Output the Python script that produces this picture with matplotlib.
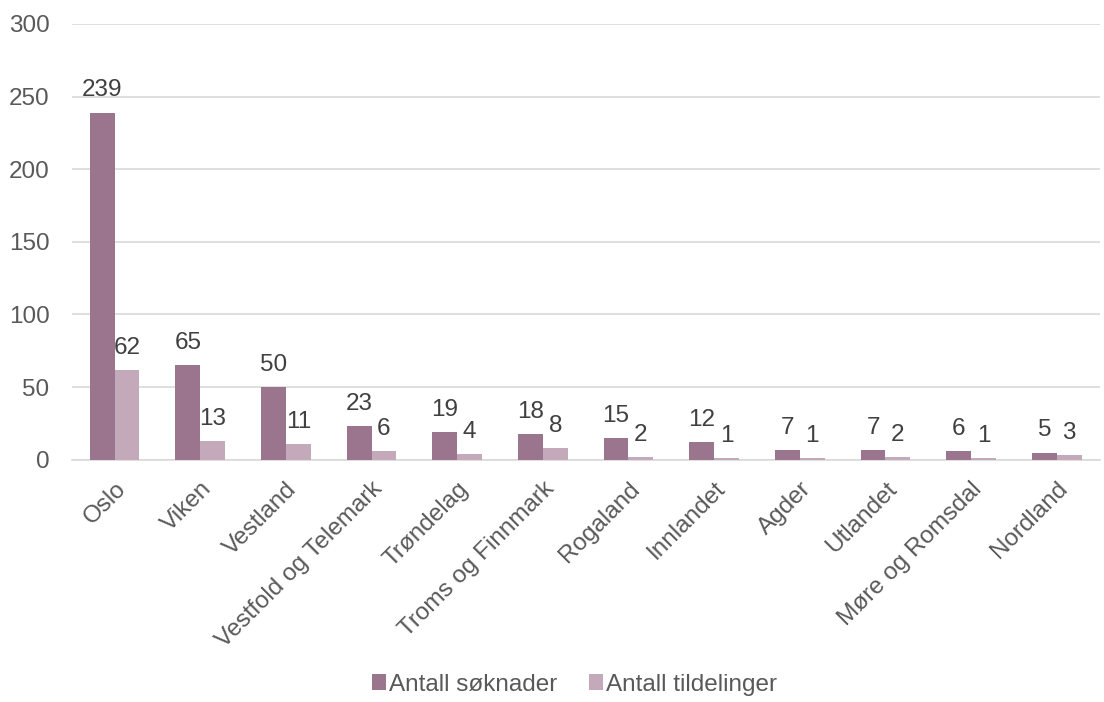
import numpy as np
import matplotlib.pyplot as plt

plt.rcParams['font.family'] = ['Liberation Sans', 'DejaVu Sans']

regions = ['Oslo', 'Viken', 'Vestland', 'Vestfold og Telemark', 'Trøndelag',
           'Troms og Finnmark', 'Rogaland', 'Innlandet', 'Agder', 'Utlandet',
           'Møre og Romsdal', 'Nordland']
soknader = [239, 65, 50, 23, 19, 18, 15, 12, 7, 7, 6, 5]
tildelinger = [62, 13, 11, 6, 4, 8, 2, 1, 1, 2, 1, 3]

c_dark = '#9b758e'
c_light = '#c4a9bb'
txt = '#404040'
fs = 17.5

fig = plt.figure(figsize=(11.04, 7.02), dpi=100)
ax = fig.add_axes([0.065, 0.345, 0.931, 0.621])

x = np.arange(len(regions))
w = 0.29
b1 = ax.bar(x - w / 2, soknader, w, color=c_dark, label='Antall søknader', zorder=3)
b2 = ax.bar(x + w / 2, tildelinger, w, color=c_light, label='Antall tildelinger', zorder=3)

for bars, vals in ((b1, soknader), (b2, tildelinger)):
    for r, v in zip(bars, vals):
        ax.annotate(str(v), (r.get_x() + r.get_width() / 2, v), xytext=(0, 8),
                    textcoords='offset points', ha='center', va='bottom',
                    fontsize=fs, color=txt)

ax.set_xlim(-0.5, len(regions) - 0.5)
ax.set_ylim(0, 300)
ax.set_yticks(range(0, 301, 50))
ax.grid(axis='y', color='#d9d9d9', linewidth=1.2, zorder=0)
for s in ['top', 'right', 'left']:
    ax.spines[s].set_visible(False)
ax.spines['bottom'].set_color('#d9d9d9')
ax.spines['bottom'].set_linewidth(1.2)
ax.tick_params(axis='both', length=0, labelsize=fs, colors='#595959')
ax.tick_params(axis='y', pad=16)
ax.tick_params(axis='x', pad=13)
ax.set_xticks(x)
ax.set_xticklabels(regions, rotation=45, ha='right', rotation_mode='anchor')

fig.legend(loc='lower center', bbox_to_anchor=(0.52, -0.022), ncol=2, frameon=False,
           fontsize=fs, handlelength=0.6, handleheight=0.6, handletextpad=0.1,
           columnspacing=1.3, labelcolor='#595959')

fig.savefig('out.png', dpi=100)
